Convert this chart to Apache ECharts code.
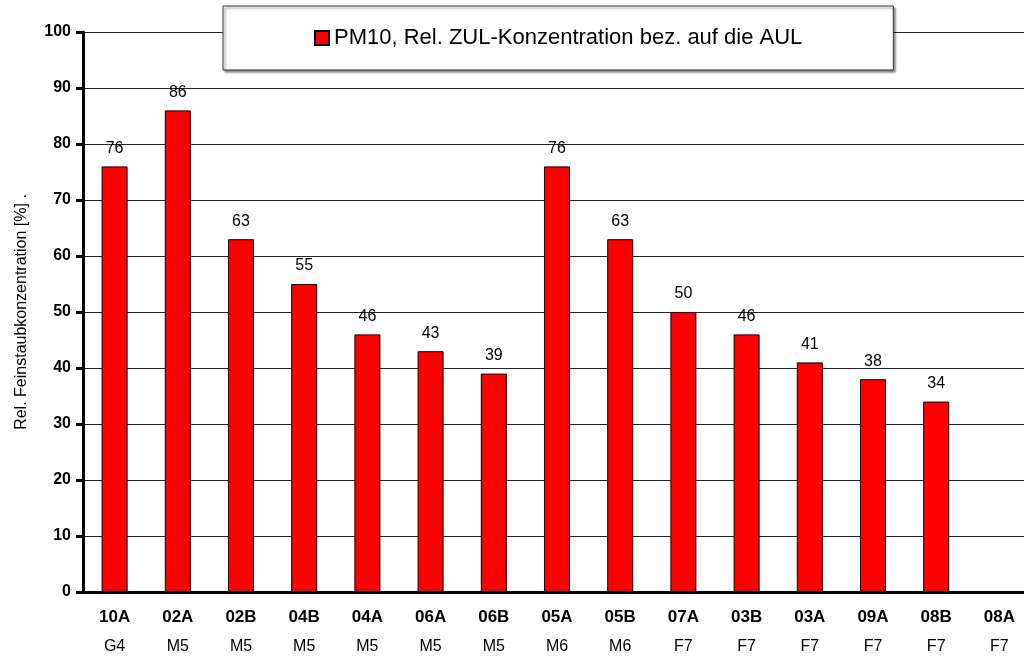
<!DOCTYPE html>
<html>
<head>
<meta charset="utf-8">
<script src="https://cdn.jsdelivr.net/npm/echarts@6/dist/echarts.min.js"></script>
<style>
  html, body { margin: 0; padding: 0; background: #fff; }
  #chart { width: 1024px; height: 659px; }
</style>
</head>
<body>
<div id="chart"></div>
<script>
const stations = ["10A", "02A", "02B", "04B", "04A", "06A", "06B", "05A", "05B", "07A", "03B", "03A", "09A", "08B", "08A"];
const groups = ["G4", "M5", "M5", "M5", "M5", "M5", "M5", "M6", "M6", "F7", "F7", "F7", "F7", "F7", "F7"];
const pm10 = [76, 86, 63, 55, 46, 43, 39, 76, 63, 50, 46, 41, 38, 34, null];

const chart = echarts.init(document.getElementById("chart"));
chart.setOption({
    animation: false,
    textStyle: { fontFamily: "Liberation Sans, Arial, sans-serif" },
    grid: { left: 83, right: -7, top: 32, bottom: 67, outerBoundsMode: "none" },
    legend: {
        left: 223,
        top: 6,
        padding: [21, 91],
        backgroundColor: "#fff",
        borderColor: "#333",
        borderWidth: 1,
        shadowColor: "rgba(0,0,0,0.45)",
        shadowOffsetX: 2,
        shadowOffsetY: 2,
        shadowBlur: 2,
        icon: "rect",
        itemWidth: 14,
        itemHeight: 14,
        itemGap: 5,
        textStyle: { fontSize: 22, color: "#000" },
        data: ["PM10, Rel. ZUL-Konzentration bez. auf die AUL"]
    },
    xAxis: {
        type: "category",
        data: stations,
        axisLine: { lineStyle: { color: "#000", width: 3 } },
        axisTick: { length: 6, lineStyle: { color: "#000", width: 3 } },
        axisLabel: {
            margin: 11,
            interval: 0,
            formatter: (v, i) => "{a|" + v + "}\n{b|" + groups[i] + "}",
            rich: {
                a: { fontSize: 17, fontWeight: "bold", color: "#000", lineHeight: 29 },
                b: { fontSize: 16, color: "#000", lineHeight: 29 }
            }
        }
    },
    yAxis: {
        type: "value",
        min: 0,
        max: 100,
        interval: 10,
        name: "Rel. Feinstaubkonzentration [%] .",
        nameLocation: "middle",
        nameGap: 53,
        nameTextStyle: { fontSize: 16, color: "#000" },
        axisLine: { show: true, lineStyle: { color: "#000", width: 3 } },
        axisTick: { show: true, length: 7, lineStyle: { color: "#000", width: 3 } },
        axisLabel: { margin: 12, fontSize: 16, fontWeight: "bold", color: "#000" },
        splitLine: { lineStyle: { color: "#222", width: 1 } }
    },
    series: [{
        name: "PM10, Rel. ZUL-Konzentration bez. auf die AUL",
        type: "bar",
        data: pm10,
        barWidth: 26,
        itemStyle: { color: "#ff0000", borderColor: "#000", borderWidth: 1 },
        label: {
            show: true,
            position: "top",
            distance: 10,
            fontSize: 16,
            color: "#000"
        }
    }]
});
</script>
</body>
</html>
